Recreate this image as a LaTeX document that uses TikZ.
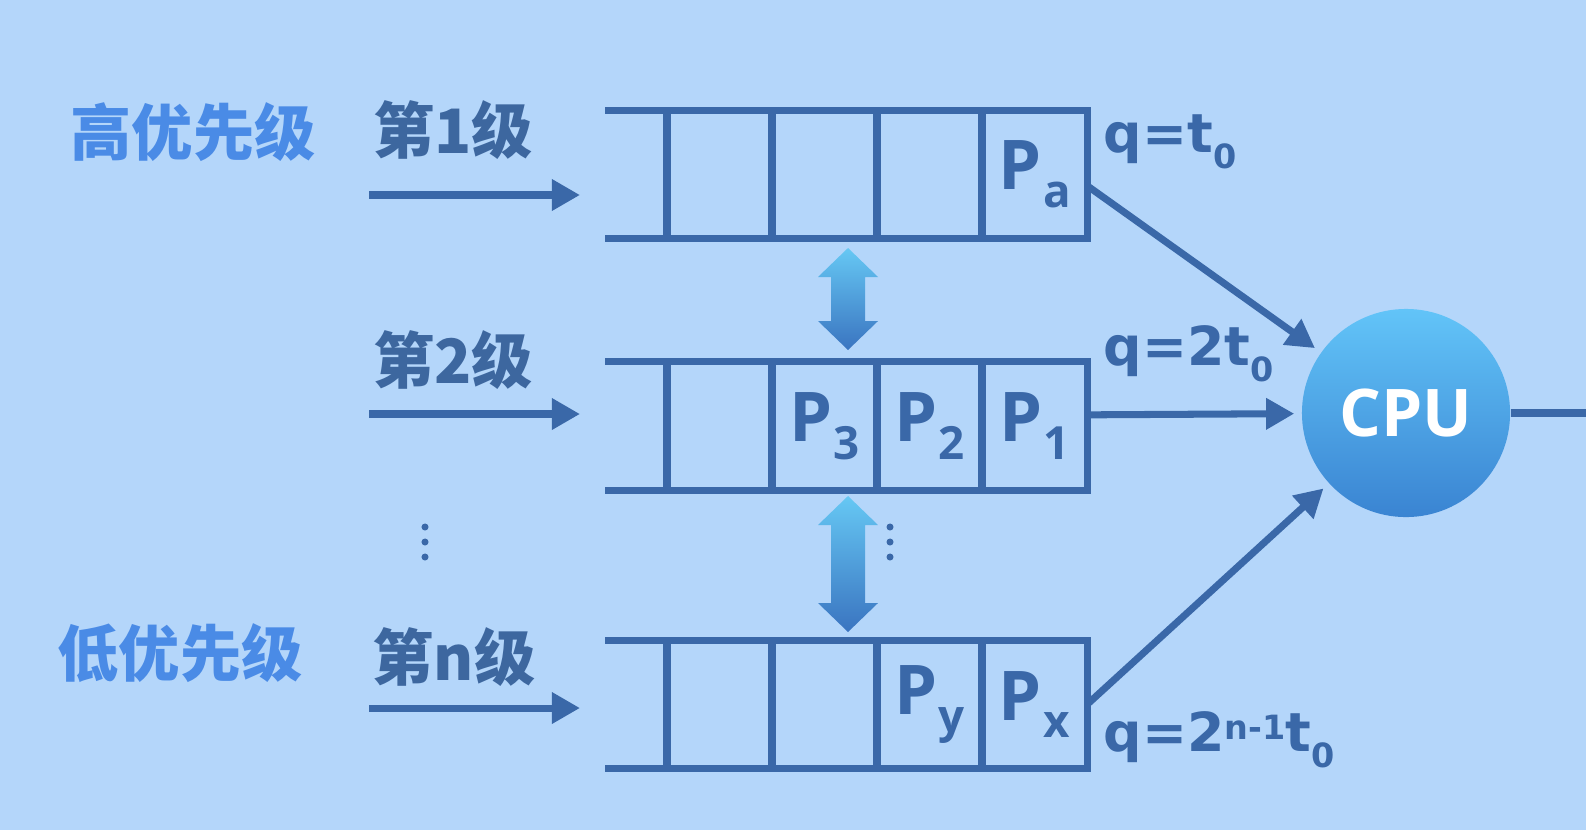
\documentclass[tikz,border=0pt]{standalone}
\usepackage{fontspec}
\setmainfont{Open Sans}
\newfontfamily\qfont{DejaVu Sans}
\newfontfamily\cjk{Noto Sans CJK SC}
\usetikzlibrary{positioning, arrows.meta}

\definecolor{bgblue}{HTML}{B4D6FA}
\definecolor{linecol}{HTML}{3A68A8}
\definecolor{lvlcol}{HTML}{3D679F}
\definecolor{prio}{HTML}{4A8BE6}
\definecolor{cputop}{HTML}{62C4F8}
\definecolor{cpubot}{HTML}{3A84D2}
\definecolor{arrtop}{HTML}{66C8F4}
\definecolor{arrbot}{HTML}{3A74C0}

\newcommand{\proc}[1]{P\kern0.5pt\raisebox{-5pt}{\fontsize{13}{13}\selectfont #1}}
\newcommand{\lowidx}[1]{\raisebox{-4.5pt}{\fontsize{9.5}{10}\selectfont #1}}
\newcommand{\highidx}[1]{\raisebox{3.6pt}{\fontsize{9.5}{10}\selectfont #1}}

\begin{document}
\begin{tikzpicture}[x=0.01cm, y=-0.01cm,
    cell/.style={draw=linecol, line width=2pt, minimum width=1.05cm,
        minimum height=1.28cm, inner sep=0pt, outer sep=0pt,
        text=linecol, font=\bfseries\fontsize{19.5}{20}\selectfont},
    qline/.style={draw=linecol, line width=2pt},
    flow/.style={draw=linecol, line width=2pt, -{Triangle[length=8pt, width=8.5pt]}},
    prio/.style={text=prio, font=\cjk\bfseries\fontsize{17.4}{20}\selectfont},
    lvl/.style={text=lvlcol, font=\cjk\bfseries\fontsize{17.4}{20}\selectfont},
    qlab/.style={text=linecol, anchor=west, inner sep=0pt,
        font=\qfont\bfseries\fontsize{15.3}{18}\selectfont}]

    \useasboundingbox (0,0) rectangle (1586,830);
    \fill[bgblue] (0,0) rectangle (1586,830);

    % queues
    \foreach \r/\yc/\ta/\tb/\tc/\td in {1/174.5/{}/{}/{}/{\proc{a}},
            2/426/{}/{\proc{3}}/{\proc{2}}/{\proc{1}},
            3/704.5/{}/{}/{\proc{y}}/{\proc{x}}} {
        \foreach \k/\txt in {1/\ta, 2/\tb, 3/\tc, 4/\td}
            \node[cell] (q\r-\k) at ({614.5+105*\k},\yc) {\txt};
        \draw[qline] (q\r-1.north west) -- +(-62,0);
        \draw[qline] (q\r-1.south west) -- +(-62,0);
    }

    % labels
    \node[prio] (hi) at (193,132) {高优先级};
    \node[prio] (lo) at (180,653) {低优先级};
    \node[lvl] (l1) at (453,130) {第1级};
    \node[lvl] (l2) at (453,360) {第2级};
    \node[lvl] (ln) at (454,657) {第n级};

    % entry arrows
    \coordinate (in1) at (369,195);
    \coordinate (to1) at (580,195);
    \coordinate (in2) at (369,414);
    \coordinate (to2) at (580,414);
    \coordinate (in3) at (369,708);
    \coordinate (to3) at (580,708);
    \draw[flow] (in1) -- (to1);
    \draw[flow] (in2) -- (to2);
    \draw[flow] (in3) -- (to3);

    % dots
    \foreach \x in {425, 890}
        \foreach \yy in {527, 542, 557}
            \fill[linecol] (\x,\yy) circle (1pt);

    % moves between levels
    \foreach \yt/\yb in {248/350, 496/632}
        \shade[top color=arrtop, bottom color=arrbot]
            (848,\yt) -- (878,\yt+29) -- (865,\yt+29) -- (865,\yb-29)
            -- (878,\yb-29) -- (848,\yb) -- (818,\yb-29) -- (831,\yb-29)
            -- (831,\yt+29) -- (818,\yt+29) -- cycle;

    % cpu
    \node[circle, minimum size=2.08cm, inner sep=0pt, top color=cputop,
        bottom color=cpubot, text=white,
        font=\bfseries\fontsize{18.7}{20}\selectfont] (cpu) at (1406,413) {CPU};
    \coordinate (exit) at (1586,413);
    \draw[qline] (cpu) -- (exit);

    \draw[flow, shorten >=2pt] (q1-4.-12) -- (cpu);
    \draw[flow, shorten >=2pt] (q2-4.12) -- (cpu);
    \draw[flow, shorten >=2pt] (q3-4.east) -- (cpu);

    % time slices
    \node[qlab] (s1) at (1103,142) {q=t\lowidx{0}};
    \node[qlab] (s2) at (1103,354) {q=2t\lowidx{0}};
    \node[qlab] (sn) at (1103,740) {q=2\highidx{n-1}t\lowidx{0}};
\end{tikzpicture}
\end{document}
